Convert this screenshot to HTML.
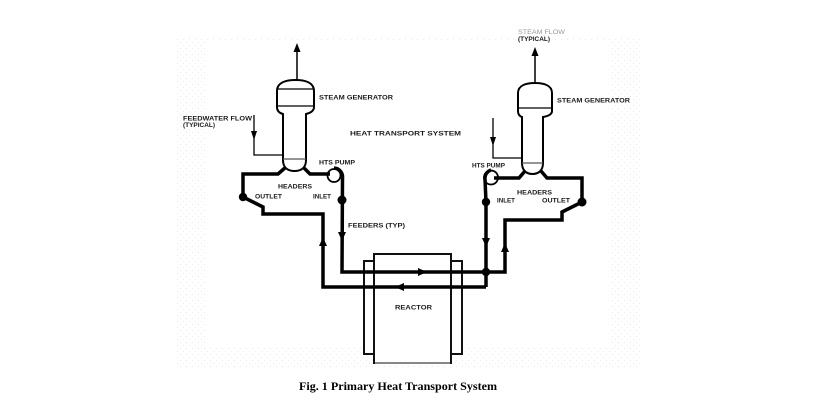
<!DOCTYPE html>
<html>
<head>
<meta charset="utf-8">
<style>
  html,body{margin:0;padding:0;background:#fff;}
  body{width:832px;height:418px;overflow:hidden;}
  svg{display:block;}
  .lbl{font-family:"Liberation Sans",sans-serif;font-weight:bold;font-size:6px;fill:#1a1a1a;}
</style>
</head>
<body>
<svg width="832" height="418" viewBox="0 0 832 418" xmlns="http://www.w3.org/2000/svg">
  <defs>
    <pattern id="dots" width="6" height="6" patternUnits="userSpaceOnUse">
      <rect x="0" y="0" width="1" height="1" fill="#efe6f3"/>
      <rect x="3" y="3" width="1" height="1" fill="#e4f3e8"/>
    </pattern>
  </defs>
  <rect width="832" height="418" fill="#fff"/>

  <!-- faint dotted frame -->
  <rect x="175" y="38" width="30" height="329" fill="url(#dots)"/>
  <rect x="205" y="348" width="435" height="19" fill="url(#dots)"/>
  <rect x="610" y="38" width="30" height="310" fill="url(#dots)"/>
  <rect x="205" y="38" width="405" height="4" fill="url(#dots)"/>

  <!-- ===== Reactor ===== -->
  <rect x="364" y="261" width="98" height="93" fill="#fff" stroke="#111" stroke-width="2"/>
  <rect x="374" y="254" width="77" height="109" fill="#fff" stroke="#111" stroke-width="2"/>
  <line x1="375" y1="363" x2="450" y2="363" stroke="#888" stroke-width="2"/>

  <!-- ===== Thick pipes ===== -->
  <g fill="none" stroke="#000" stroke-width="3.5" stroke-linejoin="miter">
    <polyline points="286,167 278,174 243,174 243,197 263,207 263,214 323,214 323,287 486,287"/>
    <polyline points="303,167 310,174 330,174"/>
    <path d="M334,168 A9 9 0 0 1 342.5,178 L342,272 L505,272 L505,220 L562,220 L562,212 L582,202 L582,178 L547,178 L541,171"/>
    <polyline points="525,171 519,178 494,178"/>
    <path d="M491,170 A8.5 8.5 0 0 0 485,179 L486,202 L486,287"/>
  </g>
  <!-- pump circles -->
  <circle cx="334" cy="175.5" r="6.5" fill="none" stroke="#000" stroke-width="1.8"/>
  <circle cx="491" cy="177.5" r="7" fill="none" stroke="#000" stroke-width="1.8"/>

  <!-- nodes -->
  <g fill="#000">
    <circle cx="243" cy="197" r="4.2"/>
    <circle cx="342" cy="200" r="4.5"/>
    <circle cx="486" cy="202" r="4.2"/>
    <circle cx="582" cy="202" r="4.5"/>
    <circle cx="486" cy="272" r="4.2"/>
  </g>

  <!-- pipe arrows -->
  <g fill="#000">
    <polygon points="323,237 319,246 327,246"/>
    <polygon points="342,241 338,232 346,232"/>
    <polygon points="486,247 482,238 490,238"/>
    <polygon points="505,243 501,252 509,252"/>
    <polygon points="427,272 418,268 418,276"/>
    <polygon points="395,287 404,283 404,291"/>
  </g>

  <!-- ===== Left steam generator ===== -->
  <line x1="297" y1="50" x2="297" y2="80" stroke="#000" stroke-width="1.5"/>
  <polygon points="297,43 293.5,52 300.5,52" fill="#000"/>
  <path d="M283,114 C279,113 277,111 277,107 L277,91 C277,82 287,80 295.5,80 C304,80 314,82 314,91 L314,107 C314,111 310,113 306,114 L306,160 C306,168 301,171 294.5,171 C288,171 283,168 283,160 Z" fill="#fff" stroke="#000" stroke-width="2"/>
  <line x1="277" y1="89" x2="314" y2="89" stroke="#000" stroke-width="1.3"/>
  <line x1="277" y1="106" x2="314" y2="106" stroke="#000" stroke-width="1.3"/>
  <line x1="283" y1="159" x2="306" y2="159" stroke="#555" stroke-width="1.2"/>
  <polyline points="254,115 254,155 283,155" fill="none" stroke="#000" stroke-width="1.3"/>
  <polygon points="254,140 251,131 257,131" fill="#000"/>

  <!-- ===== Right steam generator ===== -->
  <line x1="535" y1="54" x2="535" y2="83" stroke="#000" stroke-width="1.5"/>
  <polygon points="535,47 531.5,56 538.5,56" fill="#000"/>
  <path d="M522,117 C519,116 518,114 518,111 L518,93 C518,85 527,83 535,83 C543,83 552,85 552,93 L552,111 C552,114 549,116 543,117 L543,163 C543,170 539,174 532.5,174 C526,174 522,170 522,163 Z" fill="#fff" stroke="#000" stroke-width="2"/>
  <line x1="518" y1="108" x2="552" y2="108" stroke="#000" stroke-width="1.3"/>
  <line x1="522" y1="163" x2="543" y2="163" stroke="#555" stroke-width="1.2"/>
  <polyline points="493,118 493,158 522,158" fill="none" stroke="#000" stroke-width="1.3"/>
  <polygon points="493,146 490,137 496,137" fill="#000"/>

  <!-- ===== Labels ===== -->
  <text class="lbl" x="319" y="99.5" textLength="74" lengthAdjust="spacingAndGlyphs">STEAM GENERATOR</text>
  <text class="lbl" x="350" y="135.5" textLength="111" lengthAdjust="spacingAndGlyphs">HEAT TRANSPORT SYSTEM</text>
  <text class="lbl" x="183" y="120.5" textLength="69" lengthAdjust="spacingAndGlyphs">FEEDWATER FLOW</text>
  <text class="lbl" x="183" y="127" textLength="32" lengthAdjust="spacingAndGlyphs">(TYPICAL)</text>
  <text class="lbl" x="319" y="164.5" textLength="36" lengthAdjust="spacingAndGlyphs">HTS PUMP</text>
  <text class="lbl" x="278" y="188.5" textLength="34" lengthAdjust="spacingAndGlyphs">HEADERS</text>
  <text class="lbl" x="255" y="198.5" textLength="27" lengthAdjust="spacingAndGlyphs">OUTLET</text>
  <text class="lbl" x="313" y="198.5" textLength="18" lengthAdjust="spacingAndGlyphs">INLET</text>
  <text class="lbl" x="348" y="227.5" textLength="57" lengthAdjust="spacingAndGlyphs">FEEDERS (TYP)</text>
  <text class="lbl" x="395" y="309.5" textLength="37" lengthAdjust="spacingAndGlyphs">REACTOR</text>

  <text class="lbl" x="518" y="34" textLength="47" lengthAdjust="spacingAndGlyphs" style="fill:#999;font-weight:normal">STEAM FLOW</text>
  <text class="lbl" x="518" y="41" textLength="32" lengthAdjust="spacingAndGlyphs">(TYPICAL)</text>
  <text class="lbl" x="557" y="102.5" textLength="73" lengthAdjust="spacingAndGlyphs">STEAM GENERATOR</text>
  <text class="lbl" x="472" y="167.5" textLength="33" lengthAdjust="spacingAndGlyphs">HTS PUMP</text>
  <text class="lbl" x="517" y="194.5" textLength="35" lengthAdjust="spacingAndGlyphs">HEADERS</text>
  <text class="lbl" x="497" y="202.5" textLength="18" lengthAdjust="spacingAndGlyphs">INLET</text>
  <text class="lbl" x="542" y="202.5" textLength="28" lengthAdjust="spacingAndGlyphs">OUTLET</text>

  <!-- caption -->
  <text x="398" y="390" text-anchor="middle" textLength="198" lengthAdjust="spacingAndGlyphs" style="font-family:'Liberation Serif',serif;font-weight:bold;font-size:12px;fill:#000">Fig. 1 Primary Heat Transport System</text>
</svg>
</body>
</html>
